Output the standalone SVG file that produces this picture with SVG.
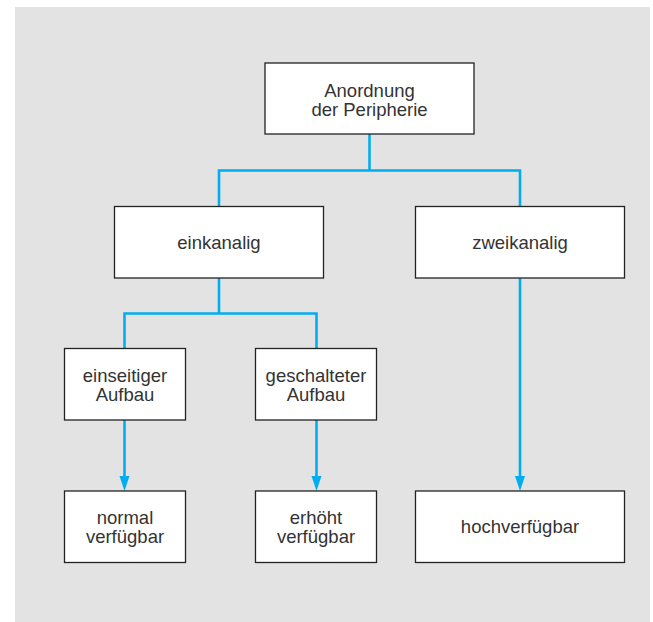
<svg xmlns="http://www.w3.org/2000/svg" width="653" height="622" viewBox="0 0 653 622">
<defs>
<style>
.box{fill:#fff;stroke:#222;stroke-width:1.3}
.t{font-family:"Liberation Sans",Arial,sans-serif;font-size:18.5px;fill:#333;text-anchor:middle}
.c{fill:none;stroke:#00aeef;stroke-width:2.6}
.ah{fill:#00aeef}
</style>
</defs>
<rect x="15" y="7" width="635" height="615" fill="#e3e3e3"/>
<g id="connectors">
<polyline class="c" points="369.5,134 369.5,170.5"/>
<polyline class="c" points="219,206 219,170.5 520,170.5 520,206"/>
<polyline class="c" points="219,278 219,313.5"/>
<polyline class="c" points="124.5,348 124.5,313.5 316.5,313.5 316.5,348"/>
<line class="c" x1="124.5" y1="420" x2="124.5" y2="478"/>
<polygon class="ah" points="119.5,476 129.5,476 124.5,491"/>
<line class="c" x1="316.5" y1="420" x2="316.5" y2="478"/>
<polygon class="ah" points="311.5,476 321.5,476 316.5,491"/>
<line class="c" x1="520" y1="278" x2="520" y2="478"/>
<polygon class="ah" points="515,476 525,476 520,491"/>
</g>
<g id="n-anordnung">
<rect class="box" x="265" y="63" width="209" height="71"/>
<text class="t" x="369.5" y="96.5">Anordnung</text>
<text class="t" x="369.5" y="115.5">der Peripherie</text>
</g>
<g id="n-einkanalig">
<rect class="box" x="114.5" y="206.5" width="209" height="71.5"/>
<text class="t" x="219" y="248.5">einkanalig</text>
</g>
<g id="n-zweikanalig">
<rect class="box" x="415.5" y="206.5" width="209" height="71.5"/>
<text class="t" x="520" y="248.5">zweikanalig</text>
</g>
<g id="n-einseitig">
<rect class="box" x="64.5" y="348.5" width="121" height="71.5"/>
<text class="t" x="125" y="381.5">einseitiger</text>
<text class="t" x="125" y="400.5">Aufbau</text>
</g>
<g id="n-geschaltet">
<rect class="box" x="255.5" y="348.5" width="121" height="71.5"/>
<text class="t" x="316" y="381.5">geschalteter</text>
<text class="t" x="316" y="400.5">Aufbau</text>
</g>
<g id="n-normal">
<rect class="box" x="64.5" y="491" width="121" height="71.5"/>
<text class="t" x="125" y="524">normal</text>
<text class="t" x="125" y="543">verfügbar</text>
</g>
<g id="n-erhoeht">
<rect class="box" x="255.5" y="491" width="121" height="71.5"/>
<text class="t" x="316" y="524">erhöht</text>
<text class="t" x="316" y="543">verfügbar</text>
</g>
<g id="n-hoch">
<rect class="box" x="415.5" y="491" width="209" height="71.5"/>
<text class="t" x="520" y="533">hochverfügbar</text>
</g>
</svg>
